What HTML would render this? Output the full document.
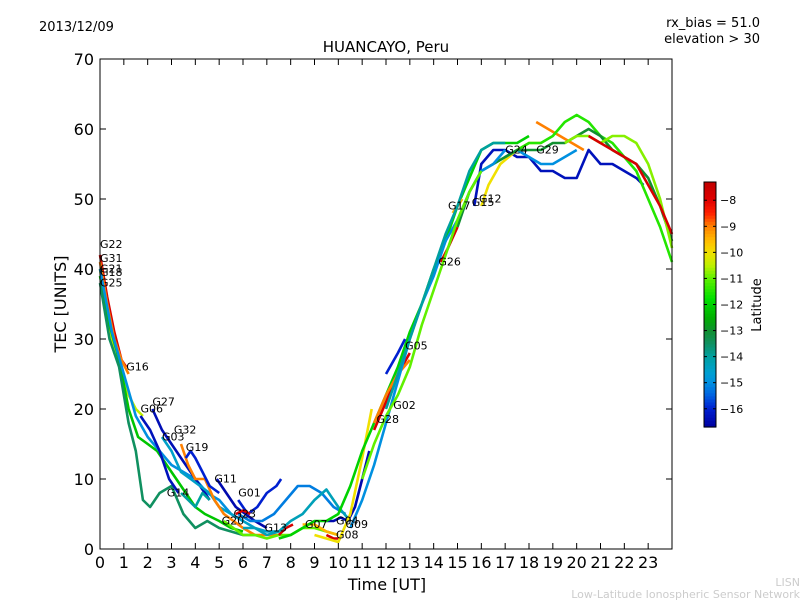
<!DOCTYPE html>
<html><head><meta charset="utf-8"><style>
body{margin:0;background:#fff;font-family:"Liberation Sans","DejaVu Sans",sans-serif}
svg text{font-family:"DejaVu Sans","Liberation Sans",sans-serif}
</style></head><body>
<svg id="c" width="800" height="600" xmlns="http://www.w3.org/2000/svg">
<rect width="800" height="600" fill="#fff"/>
<text x="39" y="31" font-size="13">2013/12/09</text>
<text x="760" y="27" font-size="13" text-anchor="end">rx_bias = 51.0</text>
<text x="760" y="43" font-size="13" text-anchor="end">elevation &gt; 30</text>
<text x="386" y="52" font-size="15" text-anchor="middle">HUANCAYO, Peru</text>
<text x="387" y="590" font-size="16" text-anchor="middle">Time [UT]</text>
<text transform="translate(66,304) rotate(-90)" font-size="16" text-anchor="middle">TEC [UNITS]</text>
<text transform="translate(761,305) rotate(-90)" font-size="13" text-anchor="middle">Latitude</text>
<text x="800" y="586" font-size="11" fill="#ccc" text-anchor="end">LISN</text>
<text x="800" y="598" font-size="11" fill="#ccc" text-anchor="end">Low-Latitude Ionospheric Sensor Network</text>
<g id="tracks"></g><g id="labels"></g><g id="axes"></g><g id="cbar"></g>
</svg>
<script>
const xTicks=[0,1,2,3,4,5,6,7,8,9,10,11,12,13,14,15,16,17,18,19,20,21,22,23];
const yTicks=[0,10,20,30,40,50,60,70];
const cbTicks=[-8,-9,-10,-11,-12,-13,-14,-15,-16];
const names=["G22","G31","G21","G18","G25","G16","G06","G27","G03","G32","G19","G14","G11","G01","G23","G20","G13","G13b","T1","G07","G04","G08","G09","R1","G02","G28","G05","G26","G17","G15","G12","G24","G29","P1","P2","P3","R2","R3","R4","E1"];
const lats=[-7.8,-9,-10.5,-12.2,-13.5,-15,-16.3,-16.4,-14.5,-9,-16,-14,-16.5,-16,-7.8,-11,-15.2,-7.8,-14.3,-9.5,-16.5,-7.8,-10,-12,-7.8,-9,-16,-7.8,-9.5,-16.3,-10,-15,-9,-11.5,-13,-10.8,-15,-11,-14,-7.8];
const times=[
[0,0.3,0.6,0.9,1.1],[0,0.3,0.6,0.9,1.2],[0,0.3,0.6,0.9,1.2,1.5,1.8],
[0,0.4,0.8,1.2,1.6,2.0,2.4,2.8,3.2,3.6,4.0,4.4,5,5.5,6],
[0,0.4,0.8,1.2,1.5,1.8,2.1,2.5,3,3.5,4,4.5,5,5.5,6,6.5],
[0,0.5,1.0,1.5,2,2.5,3,3.5,4,4.5,5,5.5,6],
[1.7,2.1,2.5,2.9,3.3],[2.2,2.6,3.0,3.4,3.8,4.2,4.6],
[2.6,3,3.4,3.8,4.2,4.6,5,5.5,6,6.5,7,7.5],
[3.4,3.7,4.0,4.4,4.8,5.2,5.6,6,6.5,7,7.5],
[3.6,3.8,4.0,4.3,4.6,5],[3.4,3.7,4,4.3,4.6],
[4.9,5.3,5.7,6.1,6.5,7],[5.8,6.2,6.6,7,7.4,7.6],[5.7,6,6.3],
[5.2,5.6,6,6.5,7,7.5,8,8.5,9,9.5,10],
[5.8,6.3,6.8,7.3,7.8,8.3,8.8,9.3,9.8,10.3],[7.5,7.8,8.1],
[6,6.5,7,7.5,8,8.5,9,9.5,10,10.5],
[8.5,9,9.5,10],[9.5,9.8,10.1,10.4,10.7,11,11.3],[9.5,9.8,10.1],
[9,9.5,10,10.5,11,11.4],
[7.5,8,8.5,9,9.5,10,10.5,11,11.5,12,12.5,13,13.5,14,14.5,15,15.5,16,16.5,17,17.5,18],
[11.5,12,12.5,13],[11.5,12,12.5,13],[12,12.5,12.8],[14.3,14.6,15],[14.8,15.2],
[15.7,16,16.5,17,17.5,18,18.5,19,19.5,20,20.5,21,21.5,22,22.5,22.8],
[16,16.3,16.8,17.5,18,18.5],[17,17.5,18,18.5,19,19.5,20],[18.3,18.8,19.3,19.8,20.3],
[17.5,18,18.5,19,19.5,20,20.5,21,21.5,22,22.5,23,23.5,24],
[15,15.5,16,16.5,17,17.5,18,18.5,19,19.5,20,20.5,21,21.5,22,22.5,23,23.5,24],
[19.5,20,20.5,21,21.5,22,22.5,23,23.5,24],
[10.5,11,11.5,12,12.5,13,13.5,14,14.5,15,15.5,16,16.5,17],
[11,11.5,12,12.5,13,13.5,14,14.5,15,15.5,16],
[12,12.5,13,13.5,14,14.5,15,15.5,16,16.5,17],
[20.5,21,22.5,23,23.5,24]];
const tecs=[
[42,36,31,27,26],[41,35,30,27,25],[40,33,28,26,22,20,19],
[39,32,27,20,16,15,14,12,10,8,6,5,4,3,2.5],
[38,30,26,18,14,7,6,8,9,5,3,4,3,2.5,2,2],
[40,31,25,19,16,14,12,11,10,8,7,5,4],
[19,17,14,10,8],[20,17,15,13,11,9,7],
[16,14,11,10,9,8,6,5,4,3,2.5,2.5],
[15,12,10,10,7,5,4,3,2,2,2],
[13,14,13,11,9,8],[8,7,6,8,7],
[10,8,6,5,4,3],[7,5,6,8,9,10],[5,5.5,5],
[4,3,2,2,1.5,2,2,3,3,2.5,2],
[5,4,4,5,7,9,9,8,6,5],[2,3,3.5],
[3,3,2,2.5,4,5,7,8.5,6,4],
[3.5,3.5,2.5,2],[4,4,4.5,4,6,10,14],[2,1.5,1.5],
[2,1.5,1,5,13,20],
[1.5,2,3,4,4,5,9,14,18,22,26,31,35,40,44,49,53,57,58,58,58,59],
[17,21,25,28],[18,22,25,27],[25,28,30],[41,43,46],[48,50],
[49,55,57,57,56,56,54,54,53,53,57,55,55,54,53,52],
[49,52,55,57,58,58],[56,57,56,55,55,56,57],[61,60,59,58,57],
[57,58,58,59,61,62,61,59,58,56,54,50,46,41],
[46,51,54,55,56,57,57,57,58,58,59,60,59,57,56,55,53,49,44],
[58,59,59,58,59,59,58,55,50,43],
[3,7,12,18,24,30,35,39,44,47,51,54,55,57],
[10,15,19,22,26,32,37,42,47,51,54],
[20,25,30,35,40,45,49,54,57,58,58],
[59,58,55,52,49,45]];
const labelNames=["G22","G31","G21","G18","G25","G16","G06","G27","G03","G32","G19","G14","G11","G01","G23","G20","G13","","","G07","G04","G08","G09","","G02","G28","G05","G26","G17","G15","G12","G24","G29","","","","","","",""];
const labelT=[0,0,0,0,0,1.1,1.7,2.2,2.6,3.1,3.6,2.8,4.8,5.8,5.6,5.1,6.9,0,0,8.6,9.9,9.9,10.3,0,12.3,11.6,12.8,14.2,14.6,15.6,15.9,17.0,18.3,0,0,0,0,0,0,0];
const labelV=[43,41,39.5,39,37.5,25.5,19.5,20.5,15.5,16.5,14,7.5,9.5,7.5,4.5,3.5,2.5,0,0,3,3.5,1.5,3,0,20,18,28.5,40.5,48.5,49,49.5,56.5,56.5,0,0,0,0,0,0,0];
const X0=100,X1=672,Y0=549,Y1=59;
const xs=t=>X0+t*(X1-X0)/24, ys=v=>Y0-v*(Y0-Y1)/70;
const CS=[[-16.7,0,0,160],[-16,0,32,208],[-15.5,0,96,224],[-15,0,144,224],[-14.6,0,160,208],[-14,0,160,160],[-13.5,16,144,96],[-13,16,144,48],[-12.5,0,176,0],[-11.8,0,224,0],[-11,96,240,0],[-10.5,192,240,0],[-10,240,224,0],[-9.6,255,192,0],[-9,255,128,0],[-8.5,255,32,0],[-8,224,0,0],[-7.3,192,0,0]];
function jet(l){if(l<=CS[0][0])return `rgb(${CS[0][1]},${CS[0][2]},${CS[0][3]})`;
for(let i=1;i<CS.length;i++){if(l<=CS[i][0]){const a=CS[i-1],b=CS[i],f=(l-a[0])/(b[0]-a[0]);
return `rgb(${Math.round(a[1]+f*(b[1]-a[1]))},${Math.round(a[2]+f*(b[2]-a[2]))},${Math.round(a[3]+f*(b[3]-a[3]))})`;}}
const z=CS[CS.length-1];return `rgb(${z[1]},${z[2]},${z[3]})`;}
const NS="http://www.w3.org/2000/svg";
function mk(tag,at,parent){const e=document.createElementNS(NS,tag);for(const k in at)e.setAttribute(k,at[k]);parent.appendChild(e);return e;}
const tg=document.getElementById('tracks'),lg=document.getElementById('labels'),ag=document.getElementById('axes'),cg=document.getElementById('cbar');
names.forEach((n,i)=>{const d=times[i].map((t,j)=>(j?'L':'M')+xs(t).toFixed(1)+','+ys(tecs[i][j]).toFixed(1)).join('');
const p=mk('path',{d:d,fill:'none',stroke:jet(lats[i]),'stroke-width':2.6,'stroke-linejoin':'round'},tg);


if(labelNames[i]){const t=mk('text',{x:xs(labelT[i]).toFixed(1),y:ys(labelV[i]).toFixed(1),'font-size':11},lg);t.textContent=labelNames[i];

}});
const fr=mk('rect',{x:X0,y:Y1,width:X1-X0,height:Y0-Y1,fill:'none',stroke:'#000','stroke-width':1},ag);


xTicks.forEach(t=>{const x=xs(t);mk('line',{x1:x,x2:x,y1:Y0,y2:Y0-6,stroke:'#000'},ag);mk('line',{x1:x,x2:x,y1:Y1,y2:Y1+6,stroke:'#000'},ag);
const tx=mk('text',{x:x,y:Y0+19,'font-size':16,'text-anchor':'middle'},ag);tx.textContent=t;

});
yTicks.forEach(v=>{const y=ys(v);mk('line',{x1:X0,x2:X0+6,y1:y,y2:y,stroke:'#000'},ag);mk('line',{x1:X1,x2:X1-6,y1:y,y2:y,stroke:'#000'},ag);
const tx=mk('text',{x:X0-6,y:y+6,'font-size':16,'text-anchor':'end'},ag);tx.textContent=v;

});
const CB0=182,CB1=427,LMAX=-7.3,LMIN=-16.7;
const cy=l=>CB0+(LMAX-l)*(CB1-CB0)/(LMAX-LMIN);
for(let k=0;k<80;k++){const l=LMAX-(k+0.5)*(LMAX-LMIN)/80;mk('rect',{x:704,y:(CB0+k*(CB1-CB0)/80).toFixed(2),width:12,height:((CB1-CB0)/80+0.6).toFixed(2),fill:jet(l)},cg);}
const cbf=mk('rect',{x:704,y:CB0,width:12,height:CB1-CB0,fill:'none',stroke:'#000'},cg);


cbTicks.forEach(l=>{const y=cy(l);mk('line',{x1:704,x2:707,y1:y,y2:y,stroke:'#000'},cg);mk('line',{x1:716,x2:713,y1:y,y2:y,stroke:'#000'},cg);
const tx=mk('text',{x:720,y:y+4,'font-size':11},cg);tx.textContent='\u2212'+Math.abs(l);

});
</script>
</body></html>
